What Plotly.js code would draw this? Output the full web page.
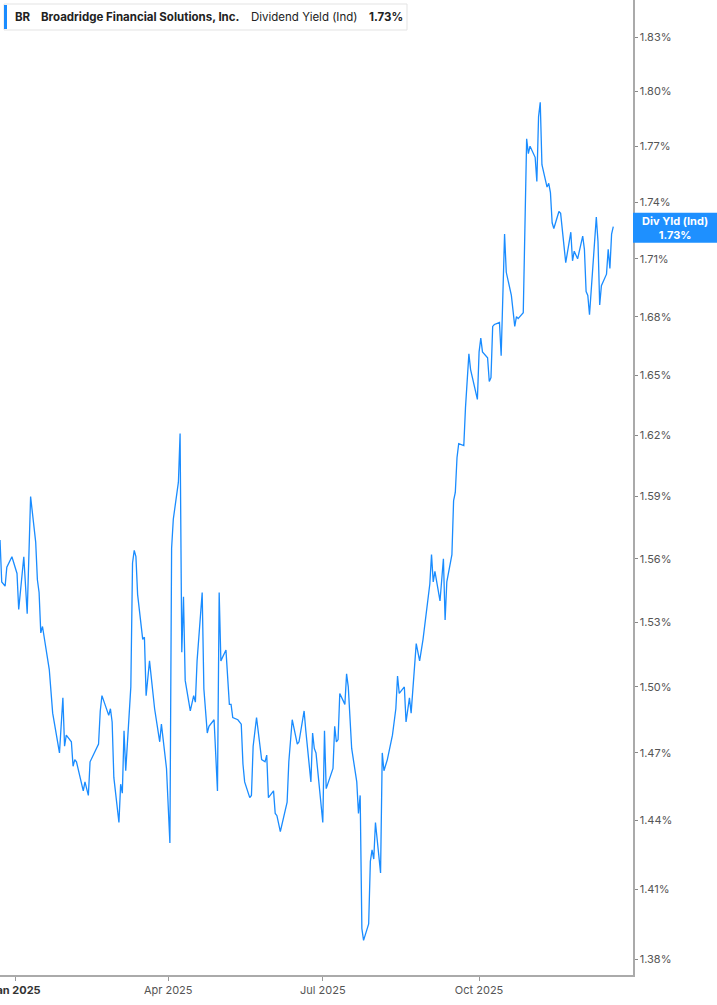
<!DOCTYPE html>
<html>
<head>
<meta charset="utf-8">
<script src="https://cdn.plot.ly/plotly-3.0.1.min.js"></script>
<style>
html,body{margin:0;padding:0;background:#fff;}
#chart{width:717px;height:1005px;}
</style>
</head>
<body>
<div id="chart"></div>
<script>
// ---- data ----
var ticker = "BR";
var companyName = "Broadridge Financial Solutions, Inc.";
var seriesName = "Dividend Yield (Ind)";
var shortSeriesName = "Div Yld (Ind)";

var dates = [
"2024-12-23","2024-12-24","2024-12-26","2024-12-27","2024-12-30","2025-01-02","2025-01-03","2025-01-06","2025-01-08","2025-01-10",
"2025-01-13","2025-01-14","2025-01-15","2025-01-16","2025-01-17","2025-01-21","2025-01-23","2025-01-27","2025-01-29","2025-01-30",
"2025-01-31","2025-02-03","2025-02-04","2025-02-05","2025-02-06","2025-02-10","2025-02-11","2025-02-13","2025-02-14","2025-02-19",
"2025-02-20","2025-02-21","2025-02-25","2025-02-26","2025-02-27","2025-02-28","2025-03-03","2025-03-04","2025-03-05","2025-03-06",
"2025-03-07","2025-03-10","2025-03-11","2025-03-12","2025-03-13","2025-03-14","2025-03-17","2025-03-18","2025-03-19","2025-03-21",
"2025-03-24","2025-03-27","2025-03-28","2025-03-31","2025-04-02","2025-04-03","2025-04-04","2025-04-07","2025-04-08","2025-04-09",
"2025-04-10","2025-04-11","2025-04-14","2025-04-15","2025-04-16","2025-04-17","2025-04-18","2025-04-21","2025-04-22","2025-04-24",
"2025-04-25","2025-04-28","2025-04-30","2025-05-01","2025-05-02","2025-05-05","2025-05-07","2025-05-08","2025-05-09","2025-05-12",
"2025-05-14","2025-05-15","2025-05-16","2025-05-19","2025-05-20","2025-05-21","2025-05-23","2025-05-26","2025-05-28","2025-05-29",
"2025-05-30","2025-06-02","2025-06-03","2025-06-04","2025-06-06","2025-06-10","2025-06-11","2025-06-13","2025-06-16","2025-06-17",
"2025-06-20","2025-06-21","2025-06-24","2025-06-25","2025-06-26","2025-06-27","2025-07-01","2025-07-02","2025-07-03","2025-07-07",
"2025-07-08","2025-07-09","2025-07-10","2025-07-11","2025-07-14","2025-07-15","2025-07-16","2025-07-18","2025-07-21","2025-07-22",
"2025-07-23","2025-07-24","2025-07-25","2025-07-28","2025-07-29","2025-07-30","2025-07-31","2025-08-01","2025-08-04","2025-08-05",
"2025-08-06","2025-08-08","2025-08-11","2025-08-13","2025-08-14","2025-08-15","2025-08-18","2025-08-19","2025-08-21","2025-08-22",
"2025-08-25","2025-08-27","2025-08-29","2025-09-02","2025-09-03","2025-09-04","2025-09-05","2025-09-08","2025-09-10","2025-09-11",
"2025-09-12","2025-09-15","2025-09-16","2025-09-17","2025-09-18","2025-09-19","2025-09-22","2025-09-23","2025-09-25","2025-09-26",
"2025-09-30","2025-10-01","2025-10-02","2025-10-03","2025-10-06","2025-10-07","2025-10-08","2025-10-09","2025-10-10","2025-10-13",
"2025-10-14","2025-10-16","2025-10-17","2025-10-20","2025-10-22","2025-10-23","2025-10-24","2025-10-27","2025-10-29","2025-10-30",
"2025-10-31","2025-11-03","2025-11-04","2025-11-05","2025-11-06","2025-11-07","2025-11-10","2025-11-11","2025-11-12","2025-11-13",
"2025-11-14","2025-11-17","2025-11-18","2025-11-21","2025-11-24","2025-11-25","2025-11-26","2025-11-28","2025-12-01","2025-12-02",
"2025-12-03","2025-12-04","2025-12-05","2025-12-09","2025-12-10","2025-12-11","2025-12-12","2025-12-15","2025-12-16","2025-12-17",
"2025-12-18","2025-12-19"
];

var yieldPct = [
1.569,1.549,1.547,1.556,1.561,1.553,1.536,1.561,1.534,1.590,
1.568,1.550,1.544,1.525,1.528,1.508,1.488,1.470,1.495,1.473,
1.478,1.475,1.464,1.467,1.466,1.453,1.457,1.451,1.466,1.474,
1.489,1.496,1.487,1.490,1.484,1.459,1.439,1.456,1.452,1.480,
1.462,1.500,1.558,1.564,1.561,1.543,1.522,1.523,1.496,1.512,
1.490,1.475,1.483,1.463,1.430,1.565,1.579,1.597,1.621,1.516,
1.542,1.503,1.489,1.493,1.496,1.493,1.512,1.544,1.499,1.479,
1.482,1.485,1.453,1.544,1.512,1.517,1.492,1.492,1.486,1.485,
1.483,1.465,1.457,1.450,1.451,1.473,1.486,1.467,1.466,1.469,
1.450,1.453,1.443,1.442,1.435,1.448,1.466,1.485,1.474,1.475,
1.489,1.480,1.457,1.479,1.472,1.470,1.439,1.480,1.454,1.463,
1.482,1.475,1.476,1.497,1.492,1.506,1.500,1.472,1.457,1.443,
1.451,1.393,1.388,1.395,1.422,1.427,1.423,1.439,1.417,1.470,
1.462,1.467,1.478,1.490,1.505,1.497,1.500,1.484,1.495,1.488,
1.520,1.512,1.522,1.548,1.562,1.549,1.554,1.540,1.560,1.531,
1.549,1.562,1.588,1.592,1.609,1.616,1.615,1.634,1.661,1.653,
1.638,1.662,1.669,1.662,1.659,1.647,1.649,1.675,1.676,1.677,
1.660,1.723,1.703,1.691,1.675,1.680,1.679,1.682,1.774,1.766,
1.770,1.764,1.751,1.786,1.794,1.760,1.748,1.750,1.745,1.729,
1.726,1.735,1.734,1.708,1.724,1.709,1.714,1.710,1.722,1.715,
1.693,1.691,1.681,1.732,1.719,1.686,1.696,1.702,1.715,1.705,
1.723,1.727
];

var yTickVals = [1.38,1.41,1.44,1.47,1.50,1.53,1.56,1.59,1.62,1.65,1.68,1.71,1.74,1.77,1.80,1.83];
var xTickVals = ["2025-01-01","2025-04-01","2025-07-01","2025-10-01"];
var xTickLabels = ["Jan 2025","Apr 2025","Jul 2025","Oct 2025"];

// ---- layout geometry ----
var W = 717, H = 1005, ML = 0, MR = 84, MT = 0, MB = 30;
var PW = W - ML - MR, PH = H - MT - MB;
function px(xp){ return (xp - ML) / PW; }
function py(yp){ return (H - MB - yp) / PH; }

var lineBlue = "#1a8cff";
var lastVal = yieldPct[yieldPct.length - 1];
var lastTxt = lastVal.toFixed(2) + "%";

var trace = {
  x: dates, y: yieldPct, type: "scatter", mode: "lines",
  line: {color: lineBlue, width: 1.3},
  hoverinfo: "skip", cliponaxis: true
};

var fontFam = "Inter, 'Noto Sans', sans-serif";
var hdrSize = 11.5;

var layout = {
  width: W, height: H,
  margin: {l: ML, r: MR, t: MT, b: MB, pad: 0},
  paper_bgcolor: "#ffffff", plot_bgcolor: "#ffffff",
  showlegend: false,
  font: {family: fontFam, size: 11, color: "#555"},
  xaxis: {
    type: "date",
    range: ["2024-12-22 23:44", "2025-12-30 14:24"],
    tickmode: "array",
    tickvals: xTickVals,
    ticktext: xTickLabels.map(function(t, i){ return i === 0 ? "<b><span style='color:#333'>" + t + "</span></b>" : t; }),
    ticks: "outside", ticklen: 4, tickwidth: 1, tickcolor: "#999",
    showline: true, linecolor: "#aaa", linewidth: 2,
    showgrid: false, zeroline: false,
    ticklabeloverflow: "allow",
    tickfont: {family: fontFam, size: 11, color: "#555"},
    fixedrange: true
  },
  yaxis: {
    type: "log", side: "right",
    range: [0.137792, 0.26741],
    tickmode: "array",
    tickvals: yTickVals,
    ticktext: yTickVals.map(function(v){ return v.toFixed(2) + "%"; }),
    ticks: "outside", ticklen: 3, tickwidth: 1, tickcolor: "#888",
    showline: true, linecolor: "#aaa", linewidth: 1.5,
    showgrid: false, zeroline: false,
    tickfont: {family: fontFam, size: 11, color: "#555"},
    fixedrange: true
  },
  shapes: [
    {type: "rect", xref: "paper", yref: "paper", x0: px(4), x1: px(407), y0: py(30), y1: py(4),
     fillcolor: "#ffffff", line: {color: "#e3e3e3", width: 1}, layer: "above"},
    {type: "rect", xref: "paper", yref: "paper", x0: px(4), x1: px(7), y0: py(29), y1: py(5),
     fillcolor: lineBlue, line: {width: 0}, layer: "above"},
    {type: "rect", xref: "paper", yref: "paper", x0: 1, x1: px(717), y0: py(242.7), y1: py(212.7),
     fillcolor: "#1e90ff", line: {width: 0}, layer: "above"}
  ],
  annotations: [
    {xref: "paper", yref: "paper", x: px(13), y: py(17), xanchor: "left", yanchor: "middle", showarrow: false,
     text: "<b>" + ticker + "</b>", font: {family: fontFam, size: hdrSize, color: "#222"}},
    {xref: "paper", yref: "paper", x: px(38.5), y: py(17), xanchor: "left", yanchor: "middle", showarrow: false,
     text: "<b>" + companyName + "</b>", font: {family: fontFam, size: hdrSize, color: "#222"}},
    {xref: "paper", yref: "paper", x: px(249), y: py(17), xanchor: "left", yanchor: "middle", showarrow: false,
     text: seriesName, font: {family: fontFam, size: hdrSize, color: "#222"}},
    {xref: "paper", yref: "paper", x: px(367), y: py(17), xanchor: "left", yanchor: "middle", showarrow: false,
     text: "<b>" + lastTxt + "</b>", font: {family: fontFam, size: hdrSize, color: "#222"}},
    {xref: "paper", yref: "paper", x: px(674.5), y: py(227.7), xanchor: "center", yanchor: "middle", showarrow: false,
     text: "<b>" + shortSeriesName + "</b><br><b>" + lastTxt + "</b>",
     font: {family: fontFam, size: 11, color: "#ffffff"}}
  ]
};

Plotly.newPlot("chart", [trace], layout, {displayModeBar: false, staticPlot: true});
</script>
</body>
</html>
